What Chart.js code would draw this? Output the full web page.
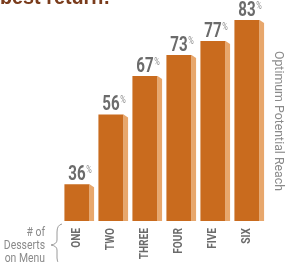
<!DOCTYPE html>
<html>
<head>
<meta charset="utf-8">
<script src="https://cdn.jsdelivr.net/npm/chart.js@4/dist/chart.umd.min.js"></script>
<style>
  html, body { margin: 0; padding: 0; background: #fff; }
  #wrap { position: relative; width: 286px; height: 262px; }
</style>
</head>
<body>
<div id="wrap"><canvas id="reachChart" width="286" height="262"></canvas></div>
<script>
// desserts on menu vs optimum potential reach
const categories = ['ONE', 'TWO', 'THREE', 'FOUR', 'FIVE', 'SIX'];
const reach = [36, 56, 67, 73, 77, 83];

const FRONT = '#C96B1E';
const SIDE = '#E8A76C';
const FONT = 'Roboto, "Liberation Sans", sans-serif';

// draw text squeezed horizontally (no condensed font installed)
function narrowText(ctx, txt, x, y, squeeze, rot) {
  ctx.save();
  ctx.translate(x, y);
  if (rot) ctx.rotate(rot);
  ctx.scale(squeeze, 1);
  ctx.fillText(txt, 0, 0);
  ctx.restore();
}

const decorations = {
  id: 'decorations',
  afterDatasetsDraw(chart) {
    const ctx = chart.ctx;
    const meta = chart.getDatasetMeta(0);
    const base = chart.scales.y.bottom;
    ctx.save();
    meta.data.forEach((bar, i) => {
      // side face
      const right = bar.x + bar.width / 2;
      ctx.fillStyle = SIDE;
      ctx.beginPath();
      ctx.moveTo(right, bar.y);
      ctx.lineTo(right + 4.5, bar.y + 3);
      ctx.lineTo(right + 4.5, base);
      ctx.lineTo(right, base);
      ctx.closePath();
      ctx.fill();

      // value label
      const txt = String(reach[i]);
      ctx.font = 'bold 21px ' + FONT;
      ctx.fillStyle = '#6b6b6b';
      ctx.textAlign = 'center';
      ctx.textBaseline = 'alphabetic';
      const w = ctx.measureText(txt).width * 0.72;
      narrowText(ctx, txt, bar.x, bar.y - 4, 0.72);
      ctx.font = '10px ' + FONT;
      ctx.textAlign = 'left';
      ctx.fillStyle = '#8a8a8a';
      narrowText(ctx, '%', bar.x + w / 2 + 0.5, bar.y - 11, 0.75);

      // category label, rotated, reading upward
      ctx.font = 'bold 13px ' + FONT;
      ctx.fillStyle = '#6b6b6b';
      ctx.textAlign = 'right';
      ctx.textBaseline = 'middle';
      narrowText(ctx, categories[i], bar.x, base + 7, 0.78, -Math.PI / 2);
    });

    // title remnant at top
    ctx.font = 'bold 22px "Liberation Sans", sans-serif';
    ctx.fillStyle = '#7A3C1C';
    ctx.textAlign = 'left';
    ctx.textBaseline = 'alphabetic';
    narrowText(ctx, 'best return!', 0, 4, 0.9);

    // right axis title
    ctx.font = '13px ' + FONT;
    ctx.fillStyle = '#8a8a8a';
    ctx.textAlign = 'center';
    ctx.textBaseline = 'middle';
    narrowText(ctx, 'Optimum Potential Reach', 278, 121, 0.95, Math.PI / 2);

    // left annotation
    ctx.font = '13px ' + FONT;
    ctx.fillStyle = '#8a8a8a';
    ctx.textAlign = 'right';
    ctx.textBaseline = 'alphabetic';
    narrowText(ctx, '# of', 45, 236, 0.8);
    narrowText(ctx, 'Desserts', 45, 249, 0.8);
    narrowText(ctx, 'on Menu', 45, 262, 0.8);

    // brace
    ctx.strokeStyle = '#9a9a9a';
    ctx.lineWidth = 1;
    ctx.beginPath();
    ctx.moveTo(62, 224);
    ctx.quadraticCurveTo(57, 225, 57, 232);
    ctx.lineTo(57, 240);
    ctx.quadraticCurveTo(57, 244, 51, 245);
    ctx.quadraticCurveTo(57, 246, 57, 250);
    ctx.lineTo(57, 258);
    ctx.quadraticCurveTo(57, 262, 59, 263);
    ctx.stroke();
    ctx.restore();
  }
};

new Chart(document.getElementById('reachChart'), {
  type: 'bar',
  data: {
    labels: categories,
    datasets: [{
      data: reach,
      backgroundColor: FRONT,
      borderWidth: 0,
      barPercentage: 0.74,
      categoryPercentage: 1
    }]
  },
  options: {
    responsive: false,
    animation: false,
    layout: { padding: { left: 60, right: 22, top: 13, bottom: 41 } },
    plugins: { legend: { display: false }, tooltip: { enabled: false } },
    scales: {
      x: { display: false },
      y: { display: false, min: 25.5, max: 85 }
    }
  },
  plugins: [decorations]
});
</script>
</body>
</html>
